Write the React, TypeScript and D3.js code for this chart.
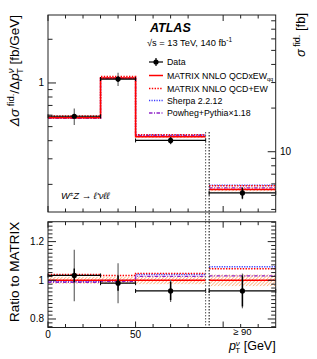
import * as d3 from "d3";
import React, { useRef, useEffect } from "react";

// bins in p_T^nu [GeV]; last one is the overflow bin (>= 90), drawn from 92 to 130
const binEdges = [0, 30, 50, 90];
const overflowRange = [92, 130];
const matrixMain = [0.575, 1.08, 0.425]; // fb/GeV
const matrixOverflow = 5.5; // fb
const dataRatio = [1.025, 0.985, 0.945, 0.945];
const dataTotErr = [0.13, 0.105, 0.06, 0.095];
const dataStatErr = [0.035, 0.04, 0.05, 0.085];
const qcdEwRatio = [1.03, 1.025, 1.035, 1.06];
const sherpaRatio = [0.995, 1.0, 1.03, 1.07];
const powhegRatio = [0.99, 0.995, 1.02, 1.023];
const matrixBand = [0.018, 0.018, 0.02, 0.03];
const xLabels = [0, 50];
const ratioLabels = [0.8, 1, 1.2];
const legendNames = ["Data", "MATRIX NNLO QCDxEW", "MATRIX NNLO QCD+EW", "Sherpa 2.2.12", "Powheg+Pythia\u00d71.18"];

const FONT = "'Liberation Sans', Arial, Helvetica, sans-serif";
const RED = "#ff0000";
const BLUE = "#3c3cff";
const PURPLE = "#8e24c8";
const ORANGE = "#ff8a3d";

function App() {
  const ref = useRef(null);

  useEffect(() => {
    const svg = d3.select(ref.current);
    svg.selectAll("*").remove();

    const left = 48, right = 275.7;
    const mTop = 15, mBot = 212, rTop = 221.7, rBot = 327.5;

    const x = d3.scaleLinear().domain([0, 130]).range([left, right]);
    const yMain = d3.scaleLog().domain([0.129, 2.94]).range([mBot, mTop]);
    const yRight = d3.scaleLog().domain([3.84, 87.7]).range([mBot, mTop]);
    const yRatio = d3.scaleLinear().domain([0.756, 1.303]).range([rBot, rTop]);

    svg.append("defs")
      .append("pattern")
      .attr("id", "hatch")
      .attr("patternUnits", "userSpaceOnUse")
      .attr("width", 3.5)
      .attr("height", 3.5)
      .append("path")
      .attr("d", "M0,3.5 L3.5,0 M-1,1 L1,-1 M2.5,4.5 L4.5,2.5")
      .attr("stroke", ORANGE)
      .attr("stroke-width", 0.8);

    // bins: [x0, x1]
    const bins = binEdges.slice(0, -1).map((e, i) => [e, binEdges[i + 1]]);
    const allBins = [...bins, overflowRange];

    // main panel values
    const mainY = (i, r) =>
      i < 3 ? yMain(matrixMain[i] * r) : yRight(matrixOverflow * r);

    const stepLine = (ratios, yf) => {
      let d = "";
      bins.forEach((b, i) => {
        const yy = yf(i, ratios[i]);
        d += (i === 0 ? "M" : "L") + x(b[0]) + "," + yy + "L" + x(b[1]) + "," + yy;
      });
      const yo = yf(3, ratios[3]);
      d += "M" + x(overflowRange[0]) + "," + yo + "L" + x(overflowRange[1]) + "," + yo;
      return d;
    };

    const ones = [1, 1, 1, 1];
    const series = [
      { r: sherpaRatio, color: BLUE, dash: "1.2,1.3", w: 1.3 },
      { r: powhegRatio, color: PURPLE, dash: "3.5,1.5,1,1.5", w: 1.3 },
      { r: qcdEwRatio, color: RED, dash: "1.4,1.4", w: 1.5 },
      { r: ones, color: RED, dash: null, w: 1.5 },
    ];

    const drawPanel = (yf, clipTop, clipBot) => {
      const g = svg.append("g");
      // MATRIX uncertainty band
      allBins.forEach((b, i) => {
        const y0 = yf(i, 1 + matrixBand[i]);
        const y1 = yf(i, 1 - matrixBand[i]);
        g.append("rect")
          .attr("x", x(b[0]))
          .attr("y", y0)
          .attr("width", x(b[1]) - x(b[0]))
          .attr("height", y1 - y0)
          .attr("fill", "url(#hatch)");
      });
      series.forEach((s) => {
        g.append("path")
          .attr("d", stepLine(s.r, yf))
          .attr("fill", "none")
          .attr("stroke", s.color)
          .attr("stroke-width", s.w)
          .attr("stroke-dasharray", s.dash);
      });
      // data
      allBins.forEach((b, i) => {
        const yc = yf(i, dataRatio[i]);
        const xc = x((b[0] + b[1]) / 2);
        g.append("line")
          .attr("x1", x(b[0])).attr("x2", x(b[1]))
          .attr("y1", yc).attr("y2", yc)
          .attr("stroke", "black").attr("stroke-width", 1.2);
        [b[0], b[1]].forEach((e) =>
          g.append("line")
            .attr("x1", x(e)).attr("x2", x(e))
            .attr("y1", yc - 2).attr("y2", yc + 2)
            .attr("stroke", "black").attr("stroke-width", 1)
        );
        const tot = dataTotErr[i] * dataRatio[i];
        const st = dataStatErr[i] * dataRatio[i];
        g.append("line")
          .attr("x1", xc).attr("x2", xc)
          .attr("y1", Math.max(clipTop, yf(i, dataRatio[i] + tot)))
          .attr("y2", Math.min(clipBot, yf(i, dataRatio[i] - tot)))
          .attr("stroke", "#666").attr("stroke-width", 1.2);
        g.append("line")
          .attr("x1", xc).attr("x2", xc)
          .attr("y1", yf(i, dataRatio[i] + st))
          .attr("y2", yf(i, dataRatio[i] - st))
          .attr("stroke", "black").attr("stroke-width", 1.5);
        g.append("circle")
          .attr("cx", xc).attr("cy", yc).attr("r", 2.6)
          .attr("fill", "black");
      });
    };

    drawPanel(mainY, mTop, mBot);
    const ratioY = (i, r) => yRatio(r);
    drawPanel(ratioY, rTop, rBot);

    // separator between regular bins and overflow bin
    [[90, "#555"], [92, "black"]].forEach(([v, c]) =>
      svg.append("line")
        .attr("x1", x(v)).attr("x2", x(v))
        .attr("y1", 132).attr("y2", rBot)
        .attr("stroke", c).attr("stroke-width", 1)
        .attr("stroke-dasharray", "1.5,1.5")
    );

    // frames
    [[mTop, mBot], [rTop, rBot]].forEach(([t, b]) =>
      svg.append("rect")
        .attr("x", left).attr("y", t)
        .attr("width", right - left).attr("height", b - t)
        .attr("fill", "none").attr("stroke", "#222").attr("stroke-width", 1)
    );

    const tick = (x1, y1, x2, y2) =>
      svg.append("line")
        .attr("x1", x1).attr("y1", y1).attr("x2", x2).attr("y2", y2)
        .attr("stroke", "#222").attr("stroke-width", 1);

    // x ticks on both panels
    d3.range(0, 130, 10).filter((v) => v !== 90).forEach((v) => {
      const len = v % 50 === 0 ? 6 : 3.5;
      [[mTop, mBot], [rTop, rBot]].forEach(([t, b]) => {
        tick(x(v), b, x(v), b - len);
        tick(x(v), t, x(v), t + len);
      });
    });

    // main left axis
    yMain.ticks().forEach((v) => {
      const major = Math.abs(v - 1) < 1e-9;
      tick(left, yMain(v), left + (major ? 8 : 4.5), yMain(v));
    });
    // main right axis
    yRight.ticks().forEach((v) => {
      const major = Math.abs(v - 10) < 1e-9;
      tick(right, yRight(v), right - (major ? 8 : 4.5), yRight(v));
    });
    // ratio axis
    yRatio.ticks(20).forEach((v) => {
      const major = ratioLabels.some((l) => Math.abs(l - v) < 1e-9);
      const len = major ? 8 : 4.5;
      tick(left, yRatio(v), left + len, yRatio(v));
      tick(right, yRatio(v), right - len, yRatio(v));
    });

    const label = (xx, yy, s, anchor, size) =>
      svg.append("text")
        .attr("x", xx).attr("y", yy)
        .attr("text-anchor", anchor)
        .attr("font-family", FONT)
        .attr("font-size", size)
        .text(s);

    label(44, yMain(1) + 3.5, "1", "end", 10);
    label(280, yRight(10) + 3.5, "10", "start", 10);
    ratioLabels.forEach((v) => label(44, yRatio(v) + 3.5, d3.format("")(v), "end", 10));
    xLabels.forEach((v) => label(x(v), 338, String(v), "middle", 10));
    label(x(111), 335, "\u2265 90", "middle", 9.5);

    // axis titles
    const lt = svg.append("text")
      .attr("transform", `translate(19,${mTop}) rotate(-90)`)
      .attr("text-anchor", "end")
      .attr("font-family", FONT)
      .attr("font-size", 13.5);
    lt.append("tspan").attr("font-style", "italic").text("\u0394\u03c3");
    lt.append("tspan").attr("font-size", 9.5).attr("dy", -5.5).text(" fid.");
    lt.append("tspan").attr("dy", 5.5).text("/\u0394");
    lt.append("tspan").attr("font-style", "italic").text("p");
    lt.append("tspan").attr("font-size", 9.5).attr("font-style", "italic").attr("dy", -5.5).text("\u03bd");
    lt.append("tspan").attr("font-size", 9.5).attr("dx", -5.5).attr("dy", 9).text("T");
    lt.append("tspan").attr("dy", -3.5).text(" [fb/GeV]");

    const rt = svg.append("text")
      .attr("transform", `translate(305,${mTop - 2}) rotate(-90)`)
      .attr("text-anchor", "end")
      .attr("font-family", FONT)
      .attr("font-size", 13);
    rt.append("tspan").attr("font-style", "italic").text("\u03c3");
    rt.append("tspan").attr("font-size", 9).attr("dy", -5.5).text(" fid.");
    rt.append("tspan").attr("dy", 5.5).text(" [fb]");

    svg.append("text")
      .attr("transform", `translate(19,${rTop}) rotate(-90)`)
      .attr("text-anchor", "end")
      .attr("font-family", FONT)
      .attr("font-size", 13.5)
      .text("Ratio to MATRIX");

    const xt = svg.append("text")
      .attr("x", right).attr("y", 350)
      .attr("text-anchor", "end")
      .attr("font-family", FONT)
      .attr("font-size", 12.5);
    xt.append("tspan").attr("font-style", "italic").text("p");
    xt.append("tspan").attr("font-size", 8).attr("font-style", "italic").attr("dy", -4).text("\u03bd");
    xt.append("tspan").attr("font-size", 8).attr("dx", -4.5).attr("dy", 7).text("T");
    xt.append("tspan").attr("dy", -3).text(" [GeV]");

    // ATLAS label
    svg.append("text")
      .attr("x", 150).attr("y", 32)
      .attr("font-family", FONT)
      .attr("font-size", 12.5)
      .attr("font-weight", "bold")
      .attr("font-style", "italic")
      .text("ATLAS");
    const en = svg.append("text")
      .attr("x", 147).attr("y", 46)
      .attr("font-family", FONT)
      .attr("font-size", 9.3);
    en.append("tspan").text("\u221as = 13 TeV, 140 fb");
    en.append("tspan").attr("font-size", 6.5).attr("dy", -4).text("-1");

    const pr = svg.append("text")
      .attr("x", 61).attr("y", 199)
      .attr("font-family", FONT)
      .attr("font-size", 9.5)
      .attr("font-style", "italic");
    pr.append("tspan").text("W");
    pr.append("tspan").attr("font-size", 6).attr("dy", -3.5).text("\u00b1");
    pr.append("tspan").attr("dy", 3.5).text("Z \u2192 \u2113'\u03bd\u2113\u2113");

    // legend
    const legY = [62, 75.5, 88.5, 100.5, 113];
    const sx0 = 149, sx1 = 163, tx = 167;
    legendNames.forEach((name, i) => {
      const yy = legY[i];
      if (i === 0) {
        tick(sx0, yy, sx1, yy).attr("stroke", "black").attr("stroke-width", 1.2);
        tick((sx0 + sx1) / 2, yy - 4, (sx0 + sx1) / 2, yy + 4).attr("stroke", "black").attr("stroke-width", 1.2);
        svg.append("circle").attr("cx", (sx0 + sx1) / 2).attr("cy", yy).attr("r", 2.6).attr("fill", "black");
      } else {
        const s = [series[3], series[2], series[0], series[1]][i - 1];
        svg.append("line")
          .attr("x1", sx0).attr("x2", sx1).attr("y1", yy).attr("y2", yy)
          .attr("stroke", s.color).attr("stroke-width", s.w)
          .attr("stroke-dasharray", s.dash);
      }
      const t = svg.append("text")
        .attr("x", tx).attr("y", yy + 3)
        .attr("font-family", FONT)
        .attr("font-size", 8.8);
      t.append("tspan").text(name);
      if (i === 1) t.append("tspan").attr("font-size", 5.5).attr("dy", 2.5).text("qq");
    });
  }, []);

  return (
    <svg
      ref={ref}
      width={317}
      height={359}
      style={{ position: "absolute", left: 0, top: 0, background: "white" }}
    ></svg>
  );
}

export default App;
